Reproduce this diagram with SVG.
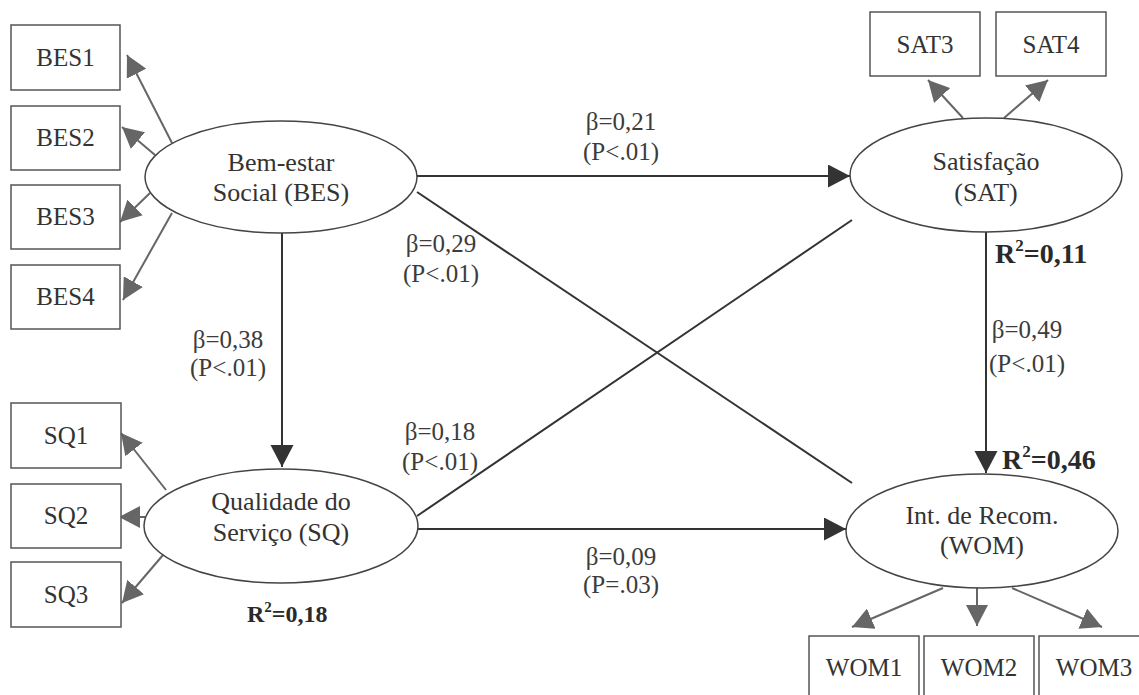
<svg xmlns="http://www.w3.org/2000/svg" width="1139" height="695" viewBox="0 0 1139 695">
<style>
text{font-family:"Liberation Serif","Times New Roman",serif;fill:#333;}
.box{fill:#fff;stroke:#555;stroke-width:1.5;}
.ell{fill:#fff;stroke:#444;stroke-width:1.5;}
.lbl{font-size:25px;text-anchor:middle;}
.nl{font-size:26px;text-anchor:middle;}
.coef{font-size:25px;text-anchor:middle;fill:#3c3c3c;}
.r2{font-size:24px;font-weight:bold;fill:#2a2a2a;}
.r2b{font-size:28px;font-weight:bold;fill:#2a2a2a;}
.ind{stroke:#666;stroke-width:2;fill:none;marker-end:url(#ga);}
.str{stroke:#333;stroke-width:2;fill:none;}
.arr{marker-end:url(#da);}
</style>
<defs>
<marker id="ga" markerUnits="userSpaceOnUse" markerWidth="22" markerHeight="22" refX="21" refY="11" orient="auto"><path d="M0,0 L21,11 L0,22 z" fill="#666"/></marker>
<marker id="da" markerUnits="userSpaceOnUse" markerWidth="24" markerHeight="24" refX="22" refY="11.5" orient="auto"><path d="M0,0 L22,11.5 L0,23 z" fill="#333"/></marker>
</defs>
<rect width="1139" height="695" fill="#fff"/>
<g id="connectors">
<line class="str arr" x1="417" y1="176" x2="850" y2="176"/>
<line class="str arr" x1="282" y1="233" x2="282" y2="467"/>
<line class="str arr" x1="418" y1="529" x2="846" y2="529"/>
<line class="str arr" x1="986" y1="232" x2="986" y2="473"/>
<line class="str" x1="417" y1="192" x2="852" y2="483"/>
<line class="str" x1="417" y1="516" x2="852" y2="220"/>
<line class="ind" x1="172" y1="143" x2="127" y2="55"/>
<line class="ind" x1="155" y1="155" x2="122" y2="127"/>
<line class="ind" x1="150" y1="193" x2="120" y2="222"/>
<line class="ind" x1="172" y1="213" x2="123" y2="300"/>
<line class="ind" x1="166" y1="490" x2="121" y2="433"/>
<line class="ind" x1="145" y1="517" x2="119" y2="517"/>
<line class="ind" x1="163" y1="555" x2="122" y2="603"/>
<line class="ind" x1="963" y1="118" x2="928" y2="80"/>
<line class="ind" x1="1004" y1="118" x2="1048" y2="80"/>
<line class="ind" x1="943" y1="588" x2="852" y2="627"/>
<line class="ind" x1="977" y1="588" x2="977" y2="626"/>
<line class="ind" x1="1012" y1="588" x2="1102" y2="627"/>
</g>
<g id="labels">
<text class="coef" x="621" y="130">β=0,21</text>
<text class="coef" x="621" y="160">(P&lt;.01)</text>
<text class="coef" x="441" y="252">β=0,29</text>
<text class="coef" x="441" y="282">(P&lt;.01)</text>
<text class="coef" x="228" y="348">β=0,38</text>
<text class="coef" x="228" y="376">(P&lt;.01)</text>
<text class="coef" x="440" y="440">β=0,18</text>
<text class="coef" x="440" y="470">(P&lt;.01)</text>
<text class="coef" x="621" y="565">β=0,09</text>
<text class="coef" x="621" y="593">(P=.03)</text>
<text class="coef" x="1027" y="338">β=0,49</text>
<text class="coef" x="1027" y="372">(P&lt;.01)</text>
<text class="r2" x="247" y="622">R<tspan font-size="15" dy="-10">2</tspan><tspan dy="10">=0,18</tspan></text>
<text class="r2b" x="995" y="263">R<tspan font-size="17" dy="-12">2</tspan><tspan dy="12">=0,11</tspan></text>
<text class="r2b" x="1002" y="469">R<tspan font-size="17" dy="-12">2</tspan><tspan dy="12">=0,46</tspan></text>
</g>
<g id="BES"><ellipse class="ell" cx="281" cy="177" rx="136" ry="56"/><text class="nl" x="281" y="171">Bem-estar</text><text class="nl" x="281" y="201">Social (BES)</text></g>
<g id="SAT"><ellipse class="ell" cx="986" cy="175" rx="136" ry="57"/><text class="nl" x="986" y="170">Satisfação</text><text class="nl" x="986" y="201">(SAT)</text></g>
<g id="SQ"><ellipse class="ell" cx="281" cy="526" rx="137" ry="57"/><text class="nl" x="281" y="510">Qualidade do</text><text class="nl" x="281" y="541">Serviço (SQ)</text></g>
<g id="WOM"><ellipse class="ell" cx="982" cy="531" rx="136" ry="57"/><text class="nl" x="982" y="524">Int. de Recom.</text><text class="nl" x="982" y="554">(WOM)</text></g>
<g id="BES1"><rect class="box" x="11" y="25" width="109" height="65"/><text class="lbl" x="65.5" y="66">BES1</text></g>
<g id="BES2"><rect class="box" x="11" y="106" width="109" height="64"/><text class="lbl" x="65.5" y="146">BES2</text></g>
<g id="BES3"><rect class="box" x="11" y="185" width="109" height="64"/><text class="lbl" x="65.5" y="225">BES3</text></g>
<g id="BES4"><rect class="box" x="11" y="265" width="109" height="64"/><text class="lbl" x="65.5" y="305">BES4</text></g>
<g id="SQ1"><rect class="box" x="11" y="403" width="110" height="65"/><text class="lbl" x="66" y="444">SQ1</text></g>
<g id="SQ2"><rect class="box" x="11" y="484" width="110" height="64"/><text class="lbl" x="66" y="524">SQ2</text></g>
<g id="SQ3"><rect class="box" x="11" y="562" width="110" height="65"/><text class="lbl" x="66" y="603">SQ3</text></g>
<g id="SAT3"><rect class="box" x="870" y="12" width="110" height="64"/><text class="lbl" x="925" y="53">SAT3</text></g>
<g id="SAT4"><rect class="box" x="996" y="12" width="110" height="64"/><text class="lbl" x="1051" y="53">SAT4</text></g>
<g id="WOM1"><rect class="box" x="809" y="636" width="110" height="70"/><text class="lbl" x="864" y="676">WOM1</text></g>
<g id="WOM2"><rect class="box" x="924" y="636" width="110" height="70"/><text class="lbl" x="979" y="676">WOM2</text></g>
<g id="WOM3"><rect class="box" x="1039" y="636" width="110" height="70"/><text class="lbl" x="1094" y="676">WOM3</text></g>
</svg>
